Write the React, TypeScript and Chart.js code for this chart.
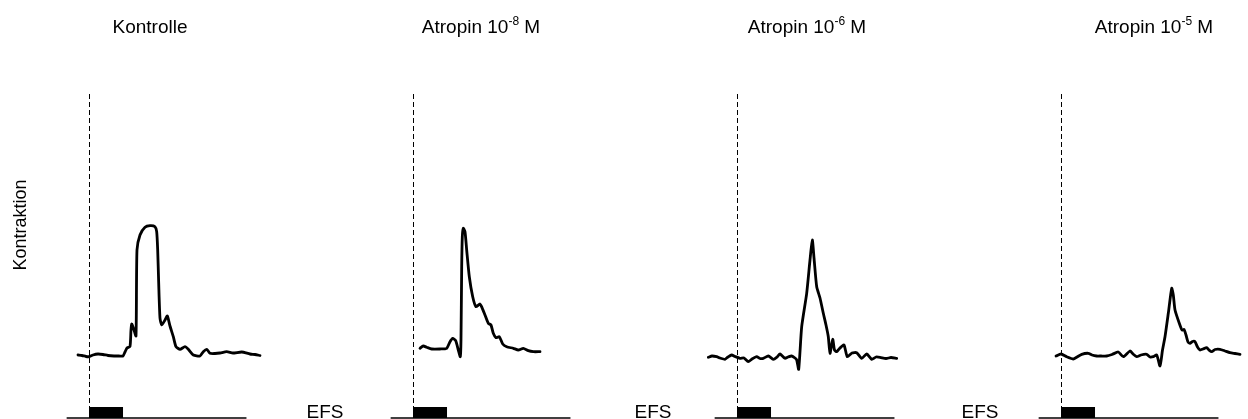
import { useEffect, useRef } from "react";
import { Chart, registerables } from "chart.js";

Chart.register(...registerables);

// ---------- text ----------
const panelTitleMain = ["Kontrolle", "Atropin 10", "Atropin 10", "Atropin 10"];
const panelTitleExponent = ["", "-8", "-6", "-5"];
const panelTitleUnit = ["", " M", " M", " M"];
const stimulusLabel = "EFS";
const yAxisLabel = "Kontraktion";

// ---------- data: time (s, relative to EFS onset) and contraction (a.u.) ----------
const kontrolleTime = [-3.4, -2.16, -0.93, 0, 1.23, 2.78, 4.32, 5.86, 7.72, 9.26, 10.49, 11.11, 11.73, 12.65, 12.96, 13.18, 13.58, 13.89, 14.51, 14.81, 15.74, 17.28, 18.83, 20.37, 20.89, 21.2, 21.51, 21.91, 22.44, 23.46, 24.17, 25.0, 26.02, 26.85, 28.09, 29.63, 30.65, 32.19, 34.26, 35.28, 36.33, 37.35, 38.89, 40.43, 42.5, 44.44, 47.13, 49.69, 51.23, 52.78];
const kontrolleForce = [0, -0.05, -0.15, -0.17, 0, 0.1, 0.05, -0.05, -0.1, -0.1, -0.1, 0.3, 0.7, 0.85, 2.5, 3.1, 2.8, 2.5, 1.9, 10.5, 12.0, 12.77, 12.93, 12.83, 12.33, 10.5, 7.2, 3.7, 3.0, 3.5, 3.9, 2.9, 1.83, 0.83, 0.57, 0.83, 0.57, 0, -0.1, 0.33, 0.57, 0.17, 0.15, 0.2, 0.33, 0.2, 0.3, 0.1, 0.05, -0.05];

const atropin8Time = [2.16, 3.18, 4.23, 5.77, 8.33, 10.4, 11.42, 12.25, 13.18, 13.98, 14.6, 14.81, 15.03, 15.22, 15.52, 16.05, 16.57, 17.38, 18.43, 19.44, 20.68, 21.39, 22.22, 23.24, 24.07, 24.78, 25.62, 26.64, 27.69, 28.92, 30.96, 32.5, 34.04, 35.59, 37.13, 39.2];
const atropin8Force = [0.67, 0.9, 0.77, 0.6, 0.6, 0.67, 1.33, 1.67, 1.43, 0.5, -0.17, 1.5, 8.83, 11.83, 12.67, 12.33, 10.5, 7.83, 5.83, 4.83, 5.1, 4.67, 4.0, 3.17, 3.0, 2.17, 1.73, 1.83, 1.1, 0.83, 0.67, 0.5, 0.67, 0.43, 0.33, 0.33];

const atropin6Time = [-8.86, -7.72, -6.27, -5.25, -3.7, -2.78, -1.64, -0.62, 0.93, 2.16, 3.49, 4.63, 6.08, 7.1, 8.12, 9.66, 11.2, 12.35, 13.27, 14.81, 15.74, 16.88, 17.9, 18.43, 19.04, 19.97, 21.51, 22.53, 23.24, 23.77, 24.6, 25.62, 26.64, 27.47, 28.18, 28.7, 29.54, 30.09, 30.77, 31.79, 33.02, 34.04, 35.49, 36.94, 38.49, 40.03, 41.57, 42.9, 44.14, 45.99, 47.53, 49.29];
const atropin6Force = [-0.23, -0.1, -0.17, -0.3, -0.43, -0.2, 0, -0.15, -0.33, -0.3, -0.67, -0.4, -0.17, -0.35, -0.33, -0.1, -0.43, -0.2, 0.1, -0.33, -0.2, -0.1, -0.3, -0.5, -1.43, 2.83, 6.17, 9.5, 11.5, 9.7, 6.83, 5.7, 4.17, 3.0, 1.83, 0.17, 1.57, 0.5, 0.33, 0.7, 1.0, -0.17, 0.2, 0.23, -0.33, 0.1, -0.43, -0.2, -0.23, -0.35, -0.25, -0.33];

const atropin5Time = [-1.54, 0, 1.76, 3.8, 4.94, 6.39, 8.43, 9.57, 11.02, 12.35, 14.1, 15.74, 17.68, 19.23, 21.3, 22.22, 23.36, 24.69, 26.45, 27.47, 28.49, 29.54, 30.56, 31.33, 32.1, 33.12, 34.17, 34.66, 35.19, 36.51, 37.35, 37.96, 38.58, 39.2, 39.81, 40.59, 41.36, 42.13, 42.9, 43.83, 44.97, 45.68, 46.51, 47.53, 49.07, 50.62, 52.16, 53.7, 55.25];
const atropin5Force = [-0.1, 0.1, -0.17, -0.4, -0.2, 0.07, 0.17, 0, -0.1, -0.1, -0.1, 0.05, 0.3, -0.17, 0.4, 0.1, -0.17, 0, 0.07, -0.2, -0.17, 0, -1.1, 0.5, 1.83, 4.17, 6.67, 6.0, 4.5, 3.17, 2.5, 2.57, 2.0, 1.3, 1.17, 1.35, 1.33, 0.8, 0.5, 0.6, 0.73, 0.5, 0.33, 0.55, 0.57, 0.4, 0.23, 0.15, 0.07];

const panelTimes = [kontrolleTime, atropin8Time, atropin6Time, atropin5Time];
const panelForces = [kontrolleForce, atropin8Force, atropin6Force, atropin5Force];

// stimulation marker / axes (data units)
const stimStart = 0;
const stimEnd = 10.5;
const stimTop = -5.2;
const stimBottom = -6.3;
const markerTop = 26.1;
const recordStart = -6.9;
const recordEnd = 48.6;

// scale ranges
const X_MIN = -58.33;
const X_MAX = 72.53;
const Y_MIN = -6.4;
const Y_MAX = 35.5;

// ---------- layout (pixels) ----------
const PANEL_STEP = 324;
const CANVAS_W = 424;
const CANVAS_H = 419;
const CANVAS_SHIFT = -100;
const titleCenterX = [250, 257, 259, 282];
const efsCenterX = [null, 101, 105, 108];
const TITLE_BASELINE = 33;
const EFS_BASELINE = 418;
const FONT_FAMILY = '"Liberation Sans", Arial, Helvetica, sans-serif';
const FONT_SIZE = 19;
const YLABEL_SIZE = 18;
const SUP_SIZE = 12;
const SUP_RAISE = 8;

function drawTitle(ctx: CanvasRenderingContext2D, cx: number, main: string, sup: string, unit: string) {
  const mainFont = `${FONT_SIZE}px ${FONT_FAMILY}`;
  const supFont = `${SUP_SIZE}px ${FONT_FAMILY}`;
  ctx.font = mainFont;
  const w1 = ctx.measureText(main).width;
  const w3 = unit ? ctx.measureText(unit).width : 0;
  ctx.font = supFont;
  const w2 = sup ? ctx.measureText(sup).width : 0;
  let x = cx - (w1 + w2 + w3) / 2;
  ctx.textAlign = "left";
  ctx.textBaseline = "alphabetic";
  ctx.font = mainFont;
  ctx.fillText(main, x, TITLE_BASELINE);
  x += w1;
  if (sup) {
    ctx.font = supFont;
    ctx.fillText(sup, x, TITLE_BASELINE - SUP_RAISE);
    x += w2;
  }
  if (unit) {
    ctx.font = mainFont;
    ctx.fillText(unit, x, TITLE_BASELINE);
  }
}

function makeDecor(index: number) {
  return {
    id: "decor" + index,
    beforeDatasetsDraw(chart: any) {
      const { ctx } = chart;
      const xs = chart.scales.x;
      const ys = chart.scales.y;
      ctx.save();
      ctx.fillStyle = "#000";
      ctx.strokeStyle = "#000";
      // dashed onset marker
      const x0 = Math.round(xs.getPixelForValue(stimStart)) + 0.5;
      ctx.lineWidth = 1;
      ctx.setLineDash([5, 3]);
      ctx.beginPath();
      ctx.moveTo(x0, ys.getPixelForValue(markerTop));
      ctx.lineTo(x0, ys.getPixelForValue(stimTop));
      ctx.stroke();
      ctx.setLineDash([]);
      // recording baseline
      ctx.lineWidth = 1.5;
      ctx.beginPath();
      ctx.moveTo(xs.getPixelForValue(recordStart), ys.getPixelForValue(stimBottom));
      ctx.lineTo(xs.getPixelForValue(recordEnd), ys.getPixelForValue(stimBottom));
      ctx.stroke();
      // stimulation bar
      const bx = xs.getPixelForValue(stimStart);
      const bw = xs.getPixelForValue(stimEnd) - bx;
      const by = ys.getPixelForValue(stimTop);
      const bh = ys.getPixelForValue(stimBottom) - by;
      ctx.fillRect(bx, by, bw, bh);
      // texts
      drawTitle(ctx, titleCenterX[index], panelTitleMain[index], panelTitleExponent[index], panelTitleUnit[index]);
      const ex = efsCenterX[index];
      if (ex !== null) {
        ctx.font = `${FONT_SIZE}px ${FONT_FAMILY}`;
        ctx.textAlign = "center";
        ctx.textBaseline = "alphabetic";
        ctx.fillText(stimulusLabel, ex, EFS_BASELINE);
      }
      if (index === 0) {
        ctx.translate(121, 225);
        ctx.rotate(-Math.PI / 2);
        ctx.font = `${YLABEL_SIZE}px ${FONT_FAMILY}`;
        ctx.textAlign = "center";
        ctx.textBaseline = "middle";
        ctx.fillText(yAxisLabel, 0, 0);
      }
      ctx.restore();
    },
  };
}

function Panel({ index }: { index: number }) {
  const ref = useRef<HTMLCanvasElement | null>(null);
  useEffect(() => {
    if (!ref.current) return;
    const t = panelTimes[index];
    const f = panelForces[index];
    const chart = new Chart(ref.current, {
      type: "line",
      data: {
        datasets: [
          {
            data: t.map((v, i) => ({ x: v, y: f[i] })),
            borderColor: "#000",
            borderWidth: 2.8,
            pointRadius: 0,
            tension: 0.2,
            fill: false,
            clip: false as any,
            borderJoinStyle: "round",
            borderCapStyle: "round",
          },
        ],
      },
      options: {
        animation: false,
        responsive: false,
        events: [],
        layout: { padding: 0 },
        scales: {
          x: { type: "linear", min: X_MIN, max: X_MAX, display: false },
          y: { type: "linear", min: Y_MIN, max: Y_MAX, display: false },
        },
        plugins: { legend: { display: false }, tooltip: { enabled: false }, title: { display: false } },
      },
      plugins: [makeDecor(index)],
    });
    return () => chart.destroy();
  }, [index]);
  return (
    <canvas
      ref={ref}
      width={CANVAS_W}
      height={CANVAS_H}
      style={{ position: "absolute", left: PANEL_STEP * index + CANVAS_SHIFT, top: 0, width: CANVAS_W, height: CANVAS_H }}
    />
  );
}

export default function App() {
  return (
    <div style={{ position: "absolute", left: 0, top: 0, width: 1248, height: 419, overflow: "hidden", background: "#fff" }}>
      {[0, 1, 2, 3].map((i) => (
        <Panel key={i} index={i} />
      ))}
    </div>
  );
}
